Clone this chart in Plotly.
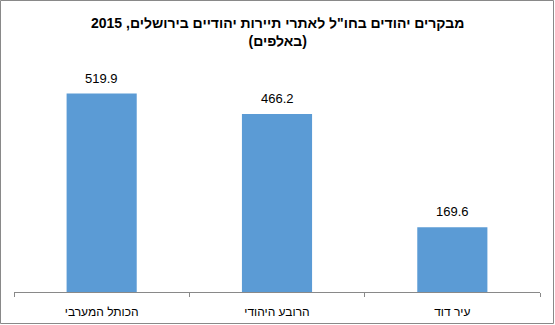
import plotly.graph_objects as go

# Visitors (thousands) per site, left to right
sites = ["הכותל המערבי", "הרובע היהודי", "עיר דוד"]
visitors = [519.9, 466.2, 169.6]
value_labels = ["519.9", "466.2", "169.6"]

title_text = "<b>מבקרים יהודים בחו\"ל לאתרי תיירות יהודיים בירושלים, 2015<br>(באלפים)</b>"

W, H = 555, 325
M = dict(l=14, r=15, t=63, b=33)
pw = W - M["l"] - M["r"]
ph = H - M["t"] - M["b"]

fig = go.Figure(
    go.Bar(
        x=sites,
        y=visitors,
        marker=dict(color="#5B9BD5", line=dict(width=0)),
        hoverinfo="skip",
    )
)

# value labels above each bar
for s, v, lab in zip(sites, visitors, value_labels):
    fig.add_annotation(
        x=s, y=v, text=lab, showarrow=False,
        yanchor="bottom", yshift=6,
        font=dict(family="Liberation Sans, Arial", size=13, color="#000000"),
    )

# chart title (two lines, centred)
fig.add_annotation(
    x=0.5, xref="paper", xanchor="center",
    y=1, yref="paper", yanchor="top", yshift=M["t"] - 13,
    text=title_text, showarrow=False,
    font=dict(family="Liberation Sans, Arial", size=14, color="#000000"),
)

# outer chart frame
fig.add_shape(
    type="rect", xref="paper", yref="paper",
    x0=(0.5 - M["l"]) / pw, x1=(W - 1.5 - M["l"]) / pw,
    y0=-(H - 1.5 - M["t"] - ph) / ph, y1=1 + (M["t"] - 0.5) / ph,
    line=dict(color="#898989", width=1), fillcolor="rgba(0,0,0,0)",
    layer="below",
)

fig.update_layout(
    width=W, height=H,
    margin=M,
    paper_bgcolor="white",
    plot_bgcolor="white",
    bargap=0.6,
    showlegend=False,
    xaxis=dict(
        showline=True, linecolor="#898989", linewidth=1,
        ticks="outside", tickson="boundaries", ticklen=4, tickcolor="#898989",
        ticklabelstandoff=9, automargin=False,
        showgrid=False, zeroline=False,
        tickfont=dict(family="Liberation Sans, Arial", size=12, color="#000000"),
        fixedrange=True,
    ),
    yaxis=dict(
        range=[0, 600], visible=False, showgrid=False, zeroline=False,
        fixedrange=True, automargin=False,
    ),
)

fig.write_html("out.html")
